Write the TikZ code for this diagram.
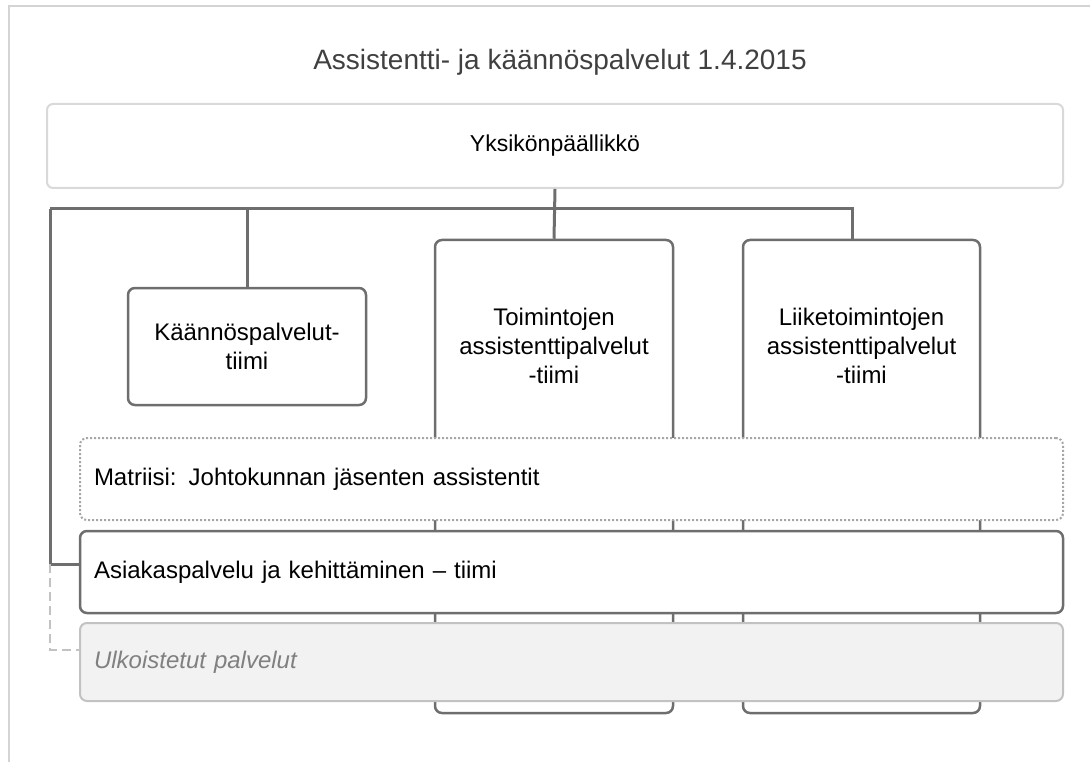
\documentclass[tikz,border=0pt]{standalone}
\usepackage{fontspec}
\setmainfont{Liberation Sans}
\usetikzlibrary{positioning,arrows.meta}
\definecolor{linegray}{HTML}{6E6E6E}
\definecolor{framegray}{HTML}{D4D4D4}
\definecolor{lightgray}{HTML}{D9D9D9}
\definecolor{dotgray}{HTML}{A6A6A6}
\definecolor{outgray}{HTML}{C2C2C2}
\definecolor{outfill}{HTML}{F2F2F2}
\definecolor{titlegray}{HTML}{404040}
\tikzset{
  bodyfont/.style={font=\fontsize{24pt}{29pt}\selectfont},
  chiefbox/.style={
    rectangle, rounded corners=6pt, draw=lightgray, line width=2pt,
    fill=white, minimum width=1016pt, minimum height=84pt,
    font=\fontsize{23pt}{28pt}\selectfont
  },
  teambox/.style={
    rectangle, rounded corners=7pt, draw=linegray, line width=2.5pt,
    fill=white, minimum width=238pt, inner sep=0pt
  },
  teamtext/.style={bodyfont, align=center, inner sep=0pt},
  bandbox/.style={
    rectangle, rounded corners=7pt, fill=white,
    minimum width=983pt, text width=955pt, inner xsep=14pt,
    align=left, bodyfont
  },
  conn/.style={draw=linegray, line width=3pt},
  dashconn/.style={draw=outgray, line width=2.5pt, dash pattern=on 9pt off 5pt}
}

\begin{document}
\begin{tikzpicture}[x=1pt,y=-1pt,>=latex]
\useasboundingbox (0,0) rectangle (1090,762);
\draw[framegray, line width=2pt] (8,6) -- (1090,6);
\draw[framegray, line width=2pt] (9,6) -- (9,762);

\node[font=\fontsize{28pt}{33pt}\selectfont, text=titlegray] (title)
  at (560,62) {Assistentti- ja käännöspalvelut 1.4.2015};

\node[chiefbox] (chief) at (555,146) {Yksikönpäällikkö};

\coordinate (busL) at (50,209);
\coordinate (busR) at (852,209);

\node[teambox, minimum height=117pt] (kaan) at (247,346.5) {};
\node[teambox, minimum height=473pt] (toim) at (554,476.5) {};
\node[teambox, minimum width=237pt, minimum height=473pt] (liike) at (861.5,476.5) {};

\node[teamtext] (kaantxt) at (kaan.center) {Käännöspalvelut-\\tiimi};
\node[teamtext] (toimtxt) at (554,346) {Toimintojen\\assistenttipalvelut\\-tiimi};
\node[teamtext] (liiketxt) at (861.5,346) {Liiketoimintojen\\assistenttipalvelut\\-tiimi};

\node[bandbox, draw=dotgray, line width=2pt, dash pattern=on 2pt off 2pt,
  minimum height=82pt] (matrix) at (571.5,479)
  {Matriisi: Johtokunnan jäsenten assistentit};
\node[bandbox, draw=linegray, line width=2.5pt,
  minimum height=82pt] (ask) at (571.5,572)
  {Asiakaspalvelu ja kehittäminen -- tiimi};
\node[bandbox, draw=outgray, line width=2pt, fill=outfill,
  minimum height=78pt, font=\fontsize{24pt}{29pt}\selectfont\itshape,
  text=gray] (out) at (571.5,662) {Ulkoistetut palvelut};

\draw[conn] (chief.south) -- (toim.north);
\draw[conn] (busL) -- (busR) -- (busR |- liike.north);
\draw[conn] (kaan.north) -- (kaan.north |- busL);
\draw[conn] (busL) |- ([yshift=8pt]ask.west);
\draw[dashconn] ([yshift=8pt]ask.west -| busL) |- ([yshift=12pt]out.west);
\end{tikzpicture}
\end{document}
